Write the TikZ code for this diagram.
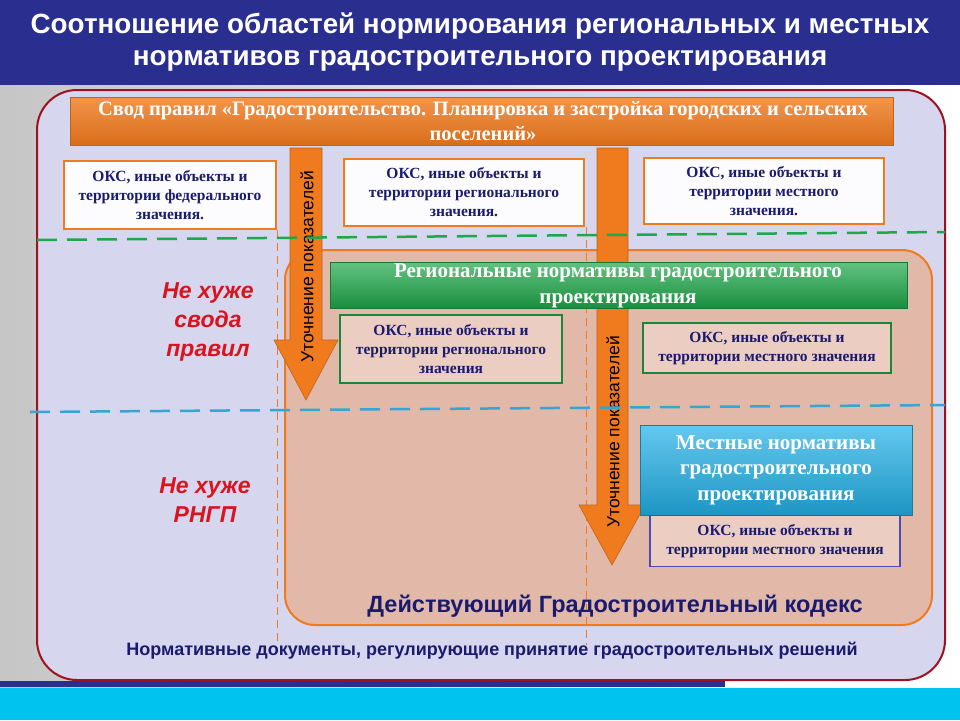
\documentclass[tikz,border=0pt]{standalone}
\usepackage{fontspec}
\setmainfont{Liberation Serif}
\setsansfont{Liberation Sans}
\definecolor{navy}{HTML}{1A1A6E}
\definecolor{titleblue}{HTML}{2A2F8F}
\definecolor{ored}{HTML}{A0101E}
\definecolor{lav}{HTML}{D6D6EE}
\definecolor{oran}{HTML}{F07A1E}
\definecolor{peach}{HTML}{E2B8A8}
\definecolor{gbar}{HTML}{1FA84A}
\definecolor{bbar}{HTML}{22B0E6}
\definecolor{cyanb}{HTML}{00C4F0}
\definecolor{redtxt}{HTML}{D8141E}
\tikzset{
 okfont/.style={font=\rmfamily\bfseries\fontsize{15.5}{19}\selectfont,text=navy,align=center},
 okbox/.style={draw=oran,line width=2pt,fill=white!92!lav,okfont},
 gbox/.style={draw=gbar!80!black,line width=1.5pt,fill=peach!70!white,okfont},
 bbox/.style={draw=gray!60!blue,line width=1.5pt,fill=peach!70!white,okfont},
 bartxt/.style={align=center,text=white,font=\rmfamily\bfseries\fontsize{21}{25.5}\selectfont},
 redlab/.style={align=center,text=redtxt,font=\sffamily\bfseries\itshape\fontsize{23}{29}\selectfont},
 arrowlab/.style={rotate=90,text=black,font=\sffamily\fontsize{17.5}{19}\selectfont},
 vdash/.style={draw=oran,line width=1pt,dash pattern=on 8pt off 5pt},
 bigarrow/.style={fill=oran,draw=oran!80!black,line width=0.6pt},
}
\begin{document}
\begin{tikzpicture}[x=1pt,y=-1pt]
\useasboundingbox (0,0) rectangle (960,720);
\shade[left color=gray!45,right color=white] (0,85) rectangle (960,690);
\fill[titleblue] (0,0) rectangle (960,85);
\node[text=white,align=center,font=\sffamily\bfseries\fontsize{27.8}{32}\selectfont] (title) at (480,42) {Соотношение областей нормирования региональных и местных\\нормативов градостроительного проектирования};
\fill[cyanb] (0,688) rectangle (960,720);
\fill[titleblue] (0,681) rectangle (725,687);
\fill[white] (725,681) rectangle (960,687);
\draw[ored,line width=2pt,fill=lav,rounded corners=40pt] (37,90) rectangle (945,680);
\draw[oran,line width=2pt,fill=peach,rounded corners=30pt] (285,250) rectangle (932,625);
\draw[vdash] (277,230) -- (277,642);
\draw[vdash] (586,227) -- (586,645);
% arrows
\path[bigarrow] (290,148) -- (322,148) -- (322,340) -- (338,340) -- (306,400) -- (274,340) -- (290,340) -- cycle;
\path[bigarrow] (597,148) -- (628,148) -- (628,505) -- (645,505) -- (612,565) -- (579,505) -- (597,505) -- cycle;
\node[arrowlab] (a1t) at (307,267) {Уточнение показателей};
\node[arrowlab] (a2t) at (613,432) {Уточнение показателей};
\shade[top color=oran!80!white,bottom color=oran!90!black,draw=oran!80!black] (70,97) rectangle (893,145);
\node[bartxt,font=\rmfamily\bfseries\fontsize{20.5}{25}\selectfont] (svod) at (483,121) {Свод правил «Градостроительство. Планировка и застройка городских и сельских\\поселений»};
\node[okbox,minimum width=212pt,minimum height=68pt] (fed) at (170,195) {ОКС, иные объекты и\\территории федерального\\значения.};
\node[okbox,minimum width=240pt,minimum height=67pt] (reg1) at (464,192) {ОКС, иные объекты и\\территории регионального\\значения.};
\node[okbox,minimum width=240pt,minimum height=66pt] (loc1) at (764,191) {ОКС, иные объекты и\\территории местного\\значения.};
\draw[gbar,line width=2.5pt,dash pattern=on 20pt off 10pt] (37,240) -- (945,232);
\shade[top color=gbar!70!white,bottom color=gbar!85!black,draw=gbar!70!black] (330,262) rectangle (907,308);
\node[bartxt] (regbar) at (618,286) {Региональные нормативы градостроительного\\проектирования};
\node[gbox,minimum width=222pt,minimum height=68pt] (reg2) at (451,349) {ОКС, иные объекты и\\территории регионального\\значения};
\node[gbox,minimum width=248pt,minimum height=50pt] (loc2) at (767,348) {ОКС, иные объекты и\\территории местного значения};
\draw[bbar!80!gray,line width=2.5pt,dash pattern=on 20pt off 10pt] (30,412) -- (945,405);
\shade[top color=bbar!70!white,bottom color=bbar!85!black,draw=bbar!70!black] (640,425) rectangle (912,515);
\node[bartxt] (locbar) at (776,470) {Местные нормативы\\градостроительного\\проектирования};
\node[bbox,minimum width=250pt,minimum height=51pt] (loc3) at (775,541) {ОКС, иные объекты и\\территории местного значения};
\node[redlab] (nh1) at (208,322) {Не хуже\\свода\\правил};
\node[redlab] (nh2) at (205,500) {Не хуже\\РНГП};
\node[text=navy,font=\sffamily\bfseries\fontsize{23.5}{26}\selectfont] (gk) at (615,606) {Действующий Градостроительный кодекс};
\node[text=navy,font=\sffamily\bfseries\fontsize{18}{20}\selectfont] (nd) at (492,651) {Нормативные документы, регулирующие принятие градостроительных решений};
\end{tikzpicture}
\end{document}
